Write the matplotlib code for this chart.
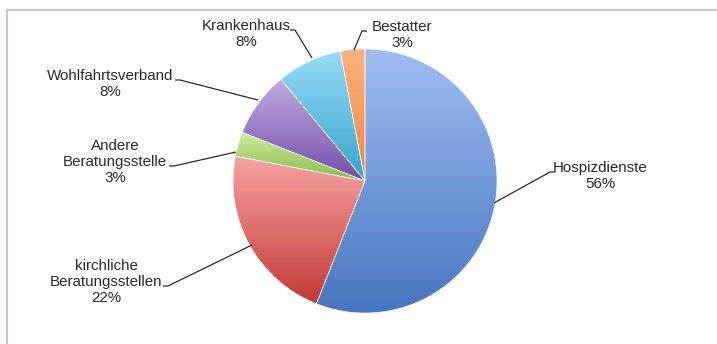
import numpy as np
import matplotlib
matplotlib.use("Agg")
import matplotlib.pyplot as plt
from matplotlib.colors import LinearSegmentedColormap
from matplotlib.patches import Rectangle

plt.rcParams['font.family'] = ['Liberation Sans', 'DejaVu Sans']

# Anteile der Ansprechpartner (in Prozent), im Uhrzeigersinn ab 12 Uhr
labels = ['Hospizdienste', 'kirchliche\nBeratungsstellen', 'Andere\nBeratungsstelle',
          'Wohlfahrtsverband', 'Krankenhaus', 'Bestatter']
values = [56, 22, 3, 8, 8, 3]

# Verlauf je Segment: hell oben, dunkel unten
top_colors = ['#a0bdf2', '#f7a3a3', '#cfeba0', '#c0aae2', '#96dbf7', '#fbb47e']
bottom_colors = ['#4777c0', '#c23a35', '#88bb48', '#7250a6', '#36a4cc', '#ee8640']

# Lage der Beschriftungen und Knickpunkte der Führungslinien (Pixel, y von oben)
label_pos = [(600, 176), (106, 282), (115, 162), (110, 84), (246, 34), (402, 35)]
line_knee = [(550, 172), (168, 286), (174, 166), (180, 80), (295, 30), (362, 31)]
line_tip = [(494, 203), (252, 245), (236, 152), (258, 100), (312, 58), (354, 50)]

W, H = 717, 344
fig = plt.figure(figsize=(W / 100, H / 100), dpi=100)
ax = fig.add_axes([0, 0, 1, 1])

# Rahmen des Diagrammbereichs
ax.add_patch(Rectangle((7, -20), W, H - 10 + 20, fill=False,
                       edgecolor='#c8c8c8', linewidth=1.6))

wedges, _ = ax.pie(values, center=(365, H - 181), radius=132, startangle=90,
                   counterclock=False, frame=True,
                   wedgeprops=dict(edgecolor='white', linewidth=0.4))

grad = np.linspace(0, 1, 256).reshape(-1, 1)
for w, c0, c1 in zip(wedges, top_colors, bottom_colors):
    cmap = LinearSegmentedColormap.from_list('g', [c1, c0])
    bb = w.get_path().get_extents(w.get_patch_transform())
    w.set_facecolor('none')
    im = ax.imshow(grad, cmap=cmap, origin='lower', aspect='auto',
                   extent=(bb.x0, bb.x1, bb.y0, bb.y1), zorder=1,
                   interpolation='bilinear')
    im.set_clip_path(w)
    w.set_zorder(2)

for lab, v, (tx, ty), (kx, ky), (px, py) in zip(labels, values, label_pos, line_knee, line_tip):
    ax.text(tx, H - ty, f'{lab}\n{v}%', ha='center', va='center',
            fontsize=10.9, color='#2b2b2b', linespacing=1.15)
    if kx < px:
        hx = kx - 5
    else:
        hx = kx + 5
    ax.plot([hx, kx, px], [H - ky, H - ky, H - py], color='#2b2b2b',
            linewidth=0.9, solid_capstyle='butt')

ax.set_xlim(0, W)
ax.set_ylim(0, H)
ax.set_aspect('equal')
ax.axis('off')
fig.savefig('out.png', dpi=100, facecolor='white')
